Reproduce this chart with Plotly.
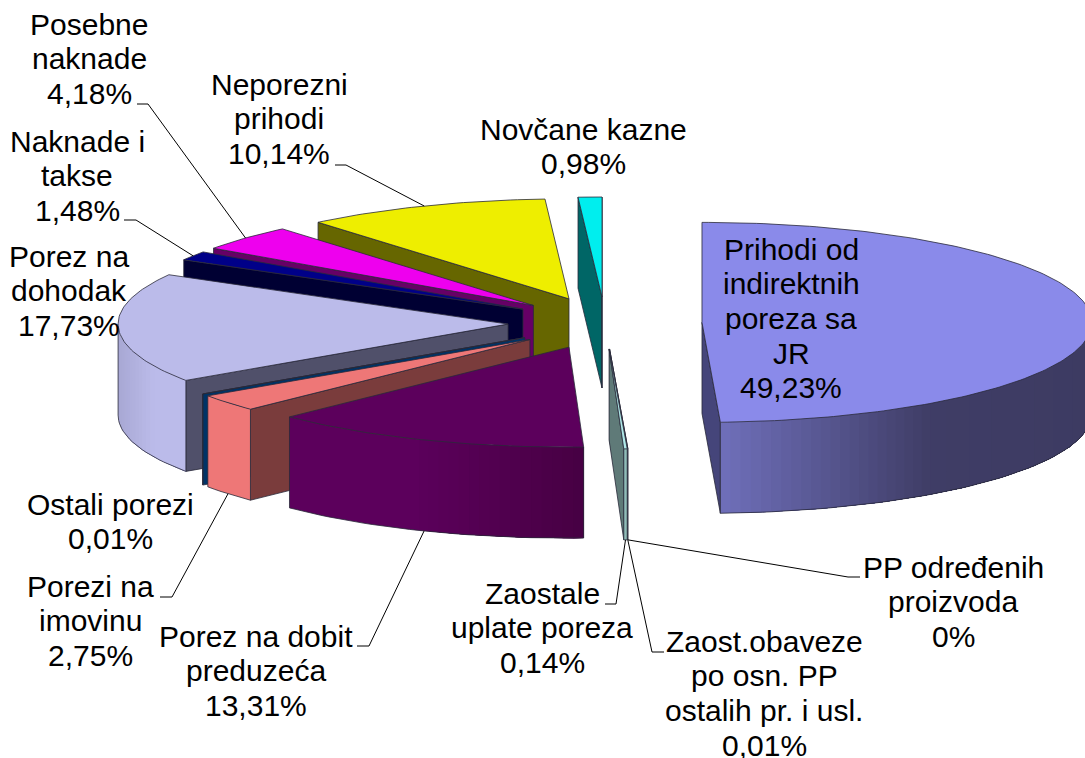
import math
import plotly.graph_objects as go

# ---- data (clockwise from 12 o'clock) ----
names = ["Prihodi od indirektnih poreza sa JR", "PP određenih proizvoda",
         "Zaost.obaveze po osn. PP ostalih pr. i usl.", "Zaostale uplate poreza",
         "Porez na dobit preduzeća", "Porezi na imovinu", "Ostali porezi",
         "Porez na dohodak", "Naknade i takse", "Posebne naknade",
         "Neporezni prihodi", "Novčane kazne"]
values = [49.23, 0, 0.01, 0.14, 13.31, 2.75, 0.01, 17.73, 1.48, 4.18, 10.14, 0.98]
label_lines = [["Prihodi od", "indirektnih", "poreza sa", "JR"],
               ["PP određenih", "proizvoda"],
               ["Zaost.obaveze", "po osn. PP", "ostalih pr. i usl."],
               ["Zaostale", "uplate poreza"],
               ["Porez na dobit", "preduzeća"],
               ["Porezi na", "imovinu"],
               ["Ostali porezi"],
               ["Porez na", "dohodak"],
               ["Naknade i", "takse"],
               ["Posebne", "naknade"],
               ["Neporezni", "prihodi"],
               ["Novčane kazne"]]
top_colors = ["#8A8AEA", "#B0E8E8", "#B0E8E8", "#B0E8E8", "#5C005C", "#EE7777",
              "#003366", "#BBBBEA", "#000088", "#EE00EE", "#EEEE00", "#00EEEE"]
wall_colors = ["#45457A", "#5F7A78", "#5F7A78", "#5F7A78", "#440040", "#7A3C3C",
               "#003366", "#50506A", "#000033", "#660066", "#666600", "#006666"]
# outer wall gradient stops: (fraction across the wall in x, colour)
outer_stops = {0: [(0, "#6E6EB8"), (0.55, "#3F3D66"), (1, "#3D3B62")],
               1: [(0, "#90BCB8"), (1, "#90BCB8")],
               2: [(0, "#90BCB8"), (1, "#90BCB8")],
               3: [(0, "#90BCB8"), (1, "#90BCB8")],
               4: [(0, "#5C005C"), (0.4, "#5C005C"), (1, "#460042")],
               5: [(0, "#EE7777"), (1, "#EE7777")],
               6: [(0, "#003366"), (1, "#003366")],
               7: [(0, "#A8A8D4"), (0.5, "#BBBBEA"), (1, "#BBBBEA")],
               8: [(0, "#000033"), (1, "#000033")],
               9: [(0, "#660066"), (1, "#660066")],
               10: [(0, "#666600"), (1, "#666600")],
               11: [(0, "#006666"), (1, "#006666")]}
draw_order = [11, 10, 9, 8, 7, 6, 5, 4, 1, 2, 3, 0]

# ---- label layout (centre x, y of first line) ----
label_pos = {0: (791, 249), 1: (953, 567), 2: (764, 641), 3: (542, 593), 4: (256, 636),
             5: (90, 586), 6: (110, 504), 7: (69, 256), 8: (77, 141), 9: (89, 24),
             10: (279, 84), 11: (583, 129)}
LINE_H = 34.7
leader_elbows = {9: [(137, 104), (148, 104)], 8: [(124, 220), (136, 220)],
                 10: [(335, 165), (346, 165)], 5: [(160, 597), (172, 597)],
                 4: [(357, 646), (369, 646)], 3: [(605, 604), (616, 604)],
                 2: [(664, 652), (652, 652)], 1: [(860, 577), (848, 577)]}

# ---- projection of the exploded, tilted pie ----
CX, CY, RX, RY, EX, EY, DEPTH = 605, 323, 390, 100, 97, 26, 91
EDGE = "#2A2A3A"
total = sum(values)


def hex2rgb(h):
    return tuple(int(h[i:i + 2], 16) for i in (1, 3, 5))


def blend(stops, f):
    for (f0, c0), (f1, c1) in zip(stops, stops[1:]):
        if f <= f1:
            t = 0 if f1 == f0 else (f - f0) / (f1 - f0)
            a, b = hex2rgb(c0), hex2rgb(c1)
            return "rgb(%d,%d,%d)" % tuple(round(a[k] + (b[k] - a[k]) * t) for k in range(3))
    return stops[-1][1]


fig = go.Figure()


def poly(xs, ys, fill, line=None, width=0.0):
    fig.add_trace(go.Scatter(x=xs, y=ys, mode="lines", fill="toself", fillcolor=fill,
                             line=dict(color=line or fill, width=width),
                             hoverinfo="skip", showlegend=False))


def polyline(xs, ys, color, width):
    fig.add_trace(go.Scatter(x=xs, y=ys, mode="lines", line=dict(color=color, width=width),
                             hoverinfo="skip", showlegend=False))


angles = []
cum = 0
for v in values:
    angles.append((cum / total * 360, (cum + v) / total * 360))
    cum += v


def apex(i):
    m = math.radians(sum(angles[i]) / 2)
    return CX + EX * math.sin(m), CY - EY * math.cos(m)


def rim(i, a):
    ax, ay = apex(i)
    r = math.radians(a)
    return ax + RX * math.sin(r), ay - RY * math.cos(r)


for i in draw_order:
    if values[i] == 0:
        continue
    a0, a1 = angles[i]
    ax, ay = apex(i)
    # radial walls that face the viewer
    for a, visible in ((a0, math.sin(math.radians(a0)) < 0), (a1, math.sin(math.radians(a1)) > 0)):
        if visible:
            px, py = rim(i, a)
            poly([ax, px, px, ax, ax], [ay, py, py + DEPTH, ay + DEPTH, ay], wall_colors[i], EDGE, 0.8)
    # outer curved wall, front part only: nested polygons so that no seams show
    w0, w1 = max(a0, 90), min(a1, 270)
    if w1 > w0:
        n = max(1, int((w1 - w0) / 1.5))
        pts = [rim(i, w0 + (w1 - w0) * k / n) for k in range(n + 1)]
        xmin, xmax = min(p[0] for p in pts), max(p[0] for p in pts)
        uniform = len({c for _, c in outer_stops[i]}) == 1
        increasing = pts[-1][0] >= pts[0][0]
        seq = pts if increasing else pts[::-1]
        last = None
        for k in range(n):
            f = 0 if xmax == xmin else (seq[k][0] - xmin) / (xmax - xmin)
            col = blend(outer_stops[i], f)
            if col == last:
                continue
            last = col
            rest = seq[k:]
            poly([p[0] for p in rest] + [p[0] for p in rest[::-1]] + [rest[0][0]],
                 [p[1] for p in rest] + [p[1] + DEPTH for p in rest[::-1]] + [rest[0][1]], col)
            if uniform:
                break
        polyline([p[0] for p in pts] + [pts[-1][0]], [p[1] + DEPTH for p in pts] + [pts[-1][1]], EDGE, 0.8)
        polyline([pts[0][0], pts[0][0]], [pts[0][1], pts[0][1] + DEPTH], EDGE, 0.8)
    # top face
    n = max(1, int((a1 - a0) / 1.0))
    rimpts = [rim(i, a0 + (a1 - a0) * k / n) for k in range(n + 1)]
    poly([ax] + [p[0] for p in rimpts] + [ax], [ay] + [p[1] for p in rimpts] + [ay], top_colors[i], EDGE, 0.8)

# ---- leader lines end on each slice's mid-angle rim ----
for i, elbow in leader_elbows.items():
    px, py = rim(i, sum(angles[i]) / 2)
    if math.cos(math.radians(sum(angles[i]) / 2)) < 0:
        py += DEPTH
    polyline([p[0] for p in elbow] + [px], [p[1] for p in elbow] + [py], "#000000", 1.0)

# ---- labels, one annotation per line ----
for i, (x, y) in label_pos.items():
    pct = ("%g" % values[i]).replace(".", ",") + "%"
    for k, text in enumerate(label_lines[i] + [pct]):
        fig.add_annotation(x=x, y=y + k * LINE_H, text=text, showarrow=False, xanchor="center",
                           yanchor="middle", font=dict(family="Liberation Sans", size=30, color="#000000"))

fig.update_layout(width=1085, height=758, margin=dict(l=0, r=0, t=0, b=0), autosize=False,
                  paper_bgcolor="white", plot_bgcolor="white", showlegend=False,
                  xaxis=dict(range=[0, 1085], visible=False, fixedrange=True),
                  yaxis=dict(range=[758, 0], visible=False, fixedrange=True))
fig.write_html("out.html", config={"displayModeBar": False},
               post_script="document.body.style.margin='0';document.body.style.overflow='hidden';")
